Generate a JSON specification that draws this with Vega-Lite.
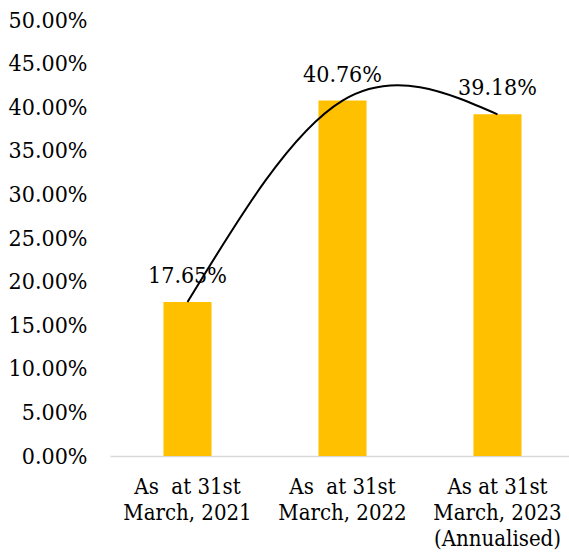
{
  "$schema": "https://vega.github.io/schema/vega-lite/v6.json",
  "autosize": {"type": "none"},
  "padding": {"left": 110, "top": 20, "right": 0, "bottom": 101},
  "width": 459,
  "height": 436,
  "background": "white",
  "config": {
    "view": {"stroke": null},
    "font": "DejaVu Serif Condensed, DejaVu Serif"
  },
  "data": {
    "values": [
      {"period": "p1", "value": 0.1765, "text": "17.65%"},
      {"period": "p2", "value": 0.4076, "text": "40.76%"},
      {"period": "p3", "value": 0.3918, "text": "39.18%"}
    ]
  },
  "encoding": {
    "x": {
      "field": "period",
      "type": "nominal",
      "sort": null,
      "scale": {"paddingInner": 0.69, "paddingOuter": 0.345, "range": [0, 465]},
      "axis": {
        "title": null,
        "labelExpr": "datum.value == 'p1' ? ['As\u00a0\u00a0at 31st', 'March, 2021'] : datum.value == 'p2' ? ['As\u00a0\u00a0at 31st', 'March, 2022'] : ['As at 31st', 'March, 2023', '(Annualised)']",
        "labelAngle": 0,
        "labelFont": "DejaVu Serif Condensed, DejaVu Serif",
        "labelFontSize": 22,
        "labelColor": "#000000",
        "labelLineHeight": 26,
        "labelPadding": 20,
        "labelBaseline": "top",
        "ticks": false,
        "domainColor": "#d9d9d9",
        "domainWidth": 1.5
      }
    },
    "y": {
      "field": "value",
      "type": "quantitative",
      "scale": {"domain": [0, 0.5], "nice": false},
      "axis": {
        "title": null,
        "format": ".2%",
        "values": [0, 0.05, 0.1, 0.15, 0.2, 0.25, 0.3, 0.35, 0.4, 0.45, 0.5],
        "labelFont": "DejaVu Serif Condensed, DejaVu Serif",
        "labelFontSize": 23,
        "labelColor": "#000000",
        "labelPadding": 23,
        "ticks": false,
        "domain": false,
        "grid": false
      }
    }
  },
  "layer": [
    {"mark": {"type": "bar", "color": "#FFC000"}},
    {
      "mark": {"type": "text", "baseline": "bottom", "dy": -14, "fontSize": 23, "color": "#000000", "font": "DejaVu Serif Condensed, DejaVu Serif"},
      "encoding": {"text": {"field": "text"}}
    },
    {
      "mark": {"type": "line", "color": "#000000", "strokeWidth": 2, "interpolate": "natural"},
      "encoding": {}
    }
  ]
}
